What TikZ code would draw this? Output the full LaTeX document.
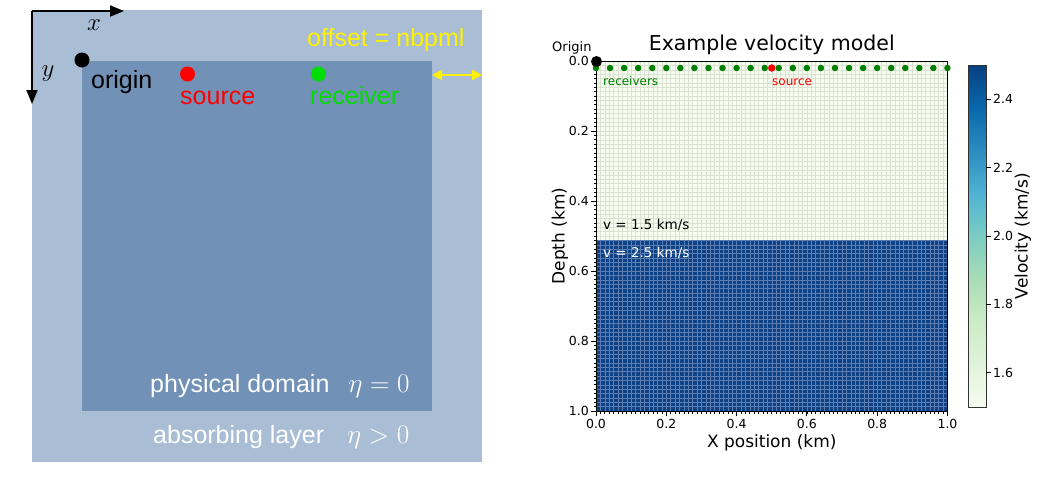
\documentclass[tikz,border=0pt]{standalone}
\usepackage[no-math]{fontspec}
\newfontfamily\lsans{Liberation Sans}
\newfontfamily\dejavu{DejaVu Sans}
\usetikzlibrary{arrows.meta}
\definecolor{outerbl}{RGB}{169,190,212}
\definecolor{innerbl}{RGB}{113,145,183}
\definecolor{rgreen}{RGB}{0,221,0}
\definecolor{mplgreen}{RGB}{0,128,0}
\definecolor{g0}{HTML}{F7FCF0}
\definecolor{g1}{HTML}{E0F3DB}
\definecolor{g2}{HTML}{CCEBC5}
\definecolor{g3}{HTML}{A8DDB5}
\definecolor{g4}{HTML}{7BCCC4}
\definecolor{g5}{HTML}{4EB3D3}
\definecolor{g6}{HTML}{2B8CBE}
\definecolor{g7}{HTML}{0868AC}
\definecolor{g8}{HTML}{084081}
\definecolor{gdark}{RGB}{14,66,132}
\definecolor{gridlight}{RGB}{218,227,209}
\definecolor{griddark}{RGB}{90,125,180}
\pgfdeclareverticalshading{gnbu}{100bp}{color(0bp)=(g0); color(25bp)=(g0); color(31.25bp)=(g1); color(37.5bp)=(g2); color(43.75bp)=(g3); color(50bp)=(g4); color(56.25bp)=(g5); color(62.5bp)=(g6); color(68.75bp)=(g7); color(75bp)=(g8); color(100bp)=(g8)}
\newcommand{\bigmath}[1]{\scalebox{1.09}{$#1$}}
\begin{document}
\begin{tikzpicture}[x=1pt,y=-1pt,
  lt/.style={font=\lsans\fontsize{25}{30}\selectfont, inner sep=0pt},
  mth/.style={font=\fontsize{25}{30}\selectfont, inner sep=0pt},
  dotn/.style={circle, inner sep=0pt, minimum size=#1},
  axarrow/.style={line width=2pt, -{Triangle[length=14pt,width=11pt]}},
  yarrow/.style={yellow, line width=2pt, {Triangle[length=10pt,width=10pt]}-{Triangle[length=10pt,width=10pt]}},
  tickl/.style={font=\dejavu\fontsize{12.5}{15}\selectfont, inner sep=0pt},
  axlab/.style={font=\dejavu\fontsize{17}{20}\selectfont, inner sep=0pt},
  smalll/.style={font=\dejavu\fontsize{12}{14}\selectfont, inner sep=0pt},
  vlab/.style={font=\dejavu\fontsize{13.5}{16}\selectfont, inner sep=0pt},
  majtick/.style={line width=1pt},
  mintick/.style={line width=0.6pt}
]
\useasboundingbox (0,0) rectangle (1063,482);
% ---------- left panel ----------
\fill[outerbl] (32,10) rectangle (482,462);
\fill[innerbl] (82,61) rectangle (432,411);
\coordinate (ax0) at (32,11);
\coordinate (axx) at (124,11);
\coordinate (axy) at (32,104);
\draw[axarrow] (ax0) -- (axx);
\draw[axarrow] (ax0) -- (axy);
\node[mth] (xl) at (94,25) {$x$};
\node[mth] (yl) at (48,74) {$y$};
\node[dotn=15pt, fill=black] (odot) at (82,60) {};
\node[lt, anchor=base west] (origt) at (91,88) {origin};
\node[dotn=15pt, fill=red] (sdot) at (187.5,74) {};
\node[lt, anchor=base west, text=red] (srct) at (180,104) {source};
\node[dotn=15pt, fill=rgreen] (rdot) at (318.5,74) {};
\node[lt, anchor=base west, text=rgreen] (rect) at (310,104) {receiver};
\node[lt, anchor=base west, text=yellow] (offt) at (307,46) {offset = nbpml};
\coordinate (oa) at (432,75);
\coordinate (ob) at (482,75);
\draw[yarrow] (oa) -- (ob);
\node[lt, anchor=base west, text=white] (physt) at (150,392) {physical domain\hspace{19pt}\bigmath{\eta=0}};
\node[lt, anchor=base west, text=white] (abst) at (153,443) {absorbing layer\hspace{23pt}\bigmath{\eta>0}};
% ---------- right panel ----------
\fill[g0] (596,61) rectangle (947.5,240.4);
\fill[gdark] (596,240.4) rectangle (947.5,411);
\foreach \i in {0,...,80} {
  \pgfmathsetmacro{\xx}{596+\i*4.39375}
  \draw[gridlight, line width=0.5pt] (\xx,61) -- (\xx,240.4);
  \draw[griddark, line width=0.45pt] (\xx,240.4) -- (\xx,411);
  \draw[black, mintick] (\xx,411) -- (\xx,413.5);
}
\foreach \j in {0,...,80} {
  \pgfmathsetmacro{\yy}{61+\j*4.375}
  \ifnum\j<41
    \draw[gridlight, line width=0.5pt] (596,\yy) -- (947.5,\yy);
  \else
    \draw[griddark, line width=0.45pt] (596,\yy) -- (947.5,\yy);
  \fi
  \draw[black, mintick] (596,\yy) -- (593.5,\yy);
}
\draw[black, line width=1pt] (596,61) rectangle (947.5,411);
\foreach \v/\t in {0/0.0,0.2/0.2,0.4/0.4,0.6/0.6,0.8/0.8,1/1.0} {
  \pgfmathsetmacro{\xx}{596+\v*351.5}
  \pgfmathsetmacro{\yy}{61+\v*350}
  \draw[majtick] (\xx,411) -- (\xx,416);
  \draw[majtick] (596,\yy) -- (591,\yy);
  \node[tickl, anchor=north] (xt\t) at (\xx,419) {\t};
  \node[tickl, anchor=east] (yt\t) at (589,\yy) {\t};
}
% receivers and source
\foreach \k in {0,...,25} {
  \pgfmathsetmacro{\xx}{596+\k*0.04*351.5}
  \node[dotn=6.5pt, fill=mplgreen] (rc\k) at (\xx,68) {};
}
\node[dotn=7.5pt, fill=red] (src) at (771.75,68) {};
\node[dotn=11pt, fill=black] (orig) at (596.5,61.5) {};
\node[font=\dejavu\fontsize{13}{15}\selectfont, inner sep=0pt, anchor=base west] (origlab) at (552,51) {Origin};
\node[font=\dejavu\fontsize{20.5}{24}\selectfont, inner sep=0pt, anchor=base] (title) at (771.75,50) {Example velocity model};
\node[smalll, anchor=base west, text=mplgreen] (rcl) at (603,85) {receivers};
\node[smalll, anchor=base west, text=red] (srcl) at (772,85) {source};
\node[vlab, anchor=base west] (v1) at (603,229) {v = 1.5 km/s};
\node[vlab, anchor=base west, text=white] (v2) at (603,257) {v = 2.5 km/s};
\node[axlab, anchor=base] (xlab) at (771.75,447) {X position (km)};
\node[axlab, rotate=90] (ylab) at (560,236) {Depth (km)};
% colorbar
\shade[shading=gnbu] (968,65) rectangle (986,407);
\draw[black!80, line width=0.8pt] (968,65) rectangle (986,407);
\foreach \c in {1.6,1.8,2.0,2.2,2.4} {
  \pgfmathsetmacro{\yy}{407-(\c-1.5)*342}
  \draw[majtick] (986,\yy) -- (991,\yy);
  \node[tickl, anchor=west] (cb\c) at (993,\yy) {\c};
}
\node[axlab, rotate=90] (cblab) at (1023,236) {Velocity (km/s)};
\end{tikzpicture}
\end{document}
